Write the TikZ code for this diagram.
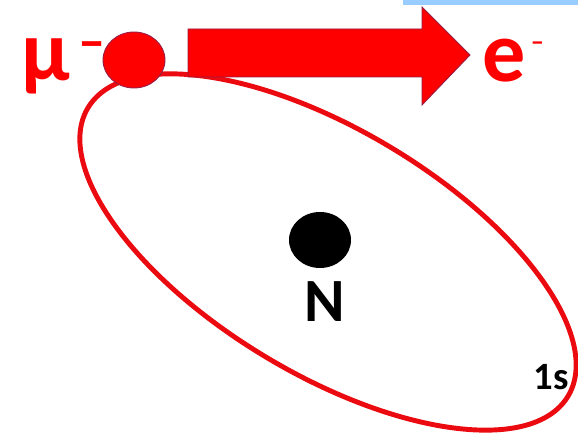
\documentclass[tikz,border=0pt]{standalone}
\usepackage{fontspec}
\setmainfont{Carlito}
\usepackage{xcolor}
\usetikzlibrary{arrows.meta,positioning}
\definecolor{barblue}{RGB}{153,204,255}
\definecolor{edgered}{RGB}{150,30,70}
\definecolor{orbitred}{RGB}{235,10,15}
\newcommand{\bigtxt}{\fontsize{49}{58}\selectfont}
\tikzset{
  orbit/.style={draw=orbitred, line width=2.8pt},
  particle/.style={fill=red, draw=edgered, line width=0.5pt},
  lbl/.style={font=\bigtxt\bfseries, text=red, inner sep=0pt, anchor=base west},
  nlbl/.style={font=\fontsize{35}{42}\selectfont\bfseries, inner sep=0pt, anchor=base},
  slbl/.style={font=\fontsize{22}{26}\selectfont\bfseries, inner sep=0pt, anchor=base}}

\begin{document}
\begin{tikzpicture}[x=0.02cm, y=-0.02cm]
  \useasboundingbox (0,0) rectangle (578,438);
  \fill[barblue] (403,0) rectangle (578,5);
  \draw[orbit, rotate around={-31:(328,252)}] (328,252) ellipse (280 and 122);
  \draw[particle] (134,60) ellipse (31 and 28);
  \draw[particle] (188,29) -- (422,29) -- (422,7) -- (470,55) -- (422,105) -- (422,77) -- (188,77) -- cycle;
  \fill[black] (320,240) ellipse (31 and 28);
  \node[lbl] (mu) at (21,81) {μ\hspace{5pt}\raisebox{12.5pt}{\fontsize{31}{31}\selectfont –}};
  \node[lbl] (el) at (482,82) {e\hspace{3pt}\raisebox{18pt}{\fontsize{15}{15}\selectfont –}};
  \node[nlbl] (nuc) at (325,322) {N};
  \node[slbl] (orb) at (551,390) {1s};
\end{tikzpicture}
\end{document}
